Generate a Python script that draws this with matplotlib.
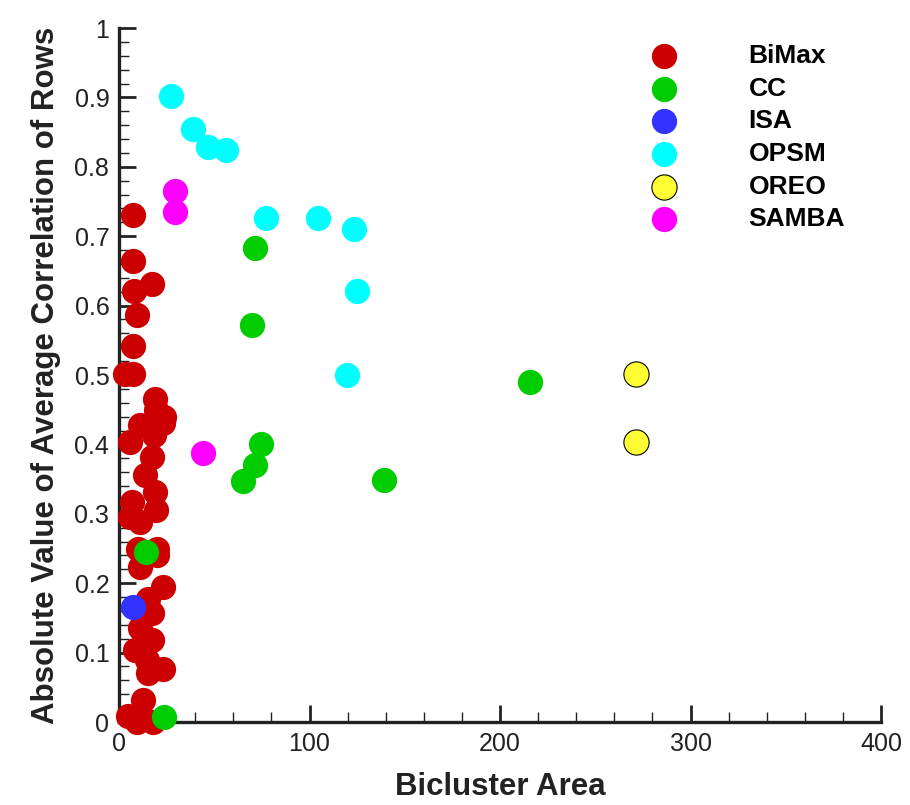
import matplotlib.pyplot as plt
from matplotlib.ticker import MultipleLocator, FuncFormatter

# dados (area do bicluster, correlacao media absoluta)
bimax_x = [7.2, 7.2, 17.1, 8.0, 9.3, 7.2, 7.2, 3.1, 19.1, 19.3, 23.4, 23.0, 11.2, 18.2,
           6.0, 17.3, 13.8, 19.1, 19.3, 6.8, 5.8, 11.0, 10.1, 19.7, 11.0, 19.7, 23.3,
           15.4, 17.1, 11.0, 17.1, 8.4, 14.5, 23.3, 15.4, 12.8, 4.9, 9.3, 18.0, 13.0]
bimax_y = [0.730, 0.664, 0.631, 0.621, 0.586, 0.542, 0.501, 0.501, 0.466, 0.450, 0.440,
           0.431, 0.428, 0.414, 0.404, 0.382, 0.356, 0.332, 0.305, 0.317, 0.296, 0.288,
           0.250, 0.250, 0.224, 0.240, 0.194, 0.177, 0.157, 0.135, 0.118, 0.104, 0.089,
           0.077, 0.070, 0.032, 0.008, 0.0, 0.0, 0.005]

cc_x = [71.4, 69.8, 215.7, 74.5, 71.4, 65.1, 139.1, 14.2, 23.6]
cc_y = [0.683, 0.572, 0.490, 0.401, 0.370, 0.347, 0.349, 0.245, 0.007]

isa_x = [7.3]
isa_y = [0.166]

opsm_x = [27.3, 38.8, 46.7, 56.2, 77.2, 104.5, 123.4, 124.9, 119.7]
opsm_y = [0.902, 0.854, 0.829, 0.824, 0.726, 0.726, 0.710, 0.621, 0.500]

oreo_x = [271.4, 271.4]
oreo_y = [0.501, 0.403]

samba_x = [29.4, 29.4, 44.1]
samba_y = [0.765, 0.735, 0.388]

plt.rcParams['font.family'] = ['Liberation Sans', 'DejaVu Sans']

fig = plt.figure(figsize=(9.1, 8.05), dpi=100)
ax = fig.add_axes([0.1308, 0.1031, 0.8374, 0.8621])

s = 330
ax.scatter(bimax_x, bimax_y, s=s, color='#cc0000', linewidths=0, label='BiMax', clip_on=False, zorder=3)
ax.scatter(cc_x, cc_y, s=s, color='#00cc00', linewidths=0, label='CC', clip_on=False, zorder=4)
ax.scatter(isa_x, isa_y, s=s, color='#3333ff', linewidths=0, label='ISA', clip_on=False, zorder=4)
ax.scatter(opsm_x, opsm_y, s=s, color='#00ffff', linewidths=0, label='OPSM', clip_on=False, zorder=4)
ax.scatter(oreo_x, oreo_y, s=s, color='#ffff33', edgecolors='black', linewidths=0.8, label='OREO', clip_on=False, zorder=4)
ax.scatter(samba_x, samba_y, s=s, color='#ff00ff', linewidths=0, label='SAMBA', clip_on=False, zorder=4)

ax.set_xlim(0, 400)
ax.set_ylim(0, 1)

ax.xaxis.set_major_locator(MultipleLocator(100))
ax.xaxis.set_minor_locator(MultipleLocator(20))
ax.yaxis.set_major_locator(MultipleLocator(0.1))
ax.yaxis.set_minor_locator(MultipleLocator(0.02))
ax.yaxis.set_major_formatter(FuncFormatter(lambda v, p: f'{v:g}'))

for side in ['top', 'right']:
    ax.spines[side].set_visible(False)
for side in ['left', 'bottom']:
    ax.spines[side].set_linewidth(2.4)
    ax.spines[side].set_color('#222222')

ax.tick_params(which='major', direction='in', length=12, width=2, color='#222222',
               labelsize=18, labelcolor='#222222', pad=7)
ax.tick_params(which='minor', direction='in', length=7, width=1, color='#222222')

ax.set_xlabel('Bicluster Area', fontsize=22.5, fontweight='bold', color='#222222', labelpad=12)
ax.set_ylabel('Absolute Value of Average Correlation of Rows', fontsize=22.5,
              fontweight='bold', color='#222222', labelpad=10)

leg = ax.legend(loc='upper left', bbox_to_anchor=(0.66, 1.0), frameon=False,
                prop={'weight': 'bold', 'size': 19}, handletextpad=2.2,
                labelspacing=0.33, borderaxespad=0.2)

plt.savefig('out.png', dpi=100)
